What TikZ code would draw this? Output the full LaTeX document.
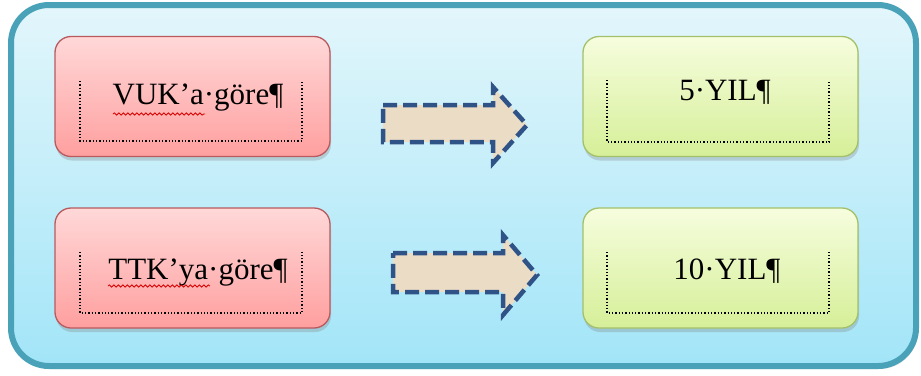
\documentclass[tikz,border=0pt]{standalone}
\usepackage{fontspec}
\setmainfont{Liberation Serif}
\usetikzlibrary{shadows,decorations.pathmorphing}
\definecolor{frameline}{HTML}{4AA2B8}
\definecolor{frametop}{HTML}{E3F6FB}
\definecolor{framebot}{HTML}{A2E5F8}
\definecolor{pinktop}{HTML}{FFD8D8}
\definecolor{pinkbot}{HTML}{FF9F9F}
\definecolor{pinkline}{HTML}{B85A5E}
\definecolor{greentop}{HTML}{F6FDDE}
\definecolor{greenbot}{HTML}{D6EF98}
\definecolor{greenline}{HTML}{A3C06A}
\definecolor{arrowfill}{HTML}{EBDCC6}
\definecolor{arrowline}{HTML}{2F5386}
\tikzset{
  pinkbox/.style={rectangle, rounded corners=16pt, draw=pinkline, line width=1.3pt,
    top color=pinktop, bottom color=pinkbot, minimum width=275pt, minimum height=120pt,
    inner sep=0pt, drop shadow={shadow xshift=1pt, shadow yshift=-4pt, opacity=0.3}},
  greenbox/.style={rectangle, rounded corners=16pt, draw=greenline, line width=1.3pt,
    top color=greentop, bottom color=greenbot, minimum width=275pt, minimum height=120pt,
    inner sep=0pt, drop shadow={shadow xshift=1pt, shadow yshift=-4pt, opacity=0.3}},
  label/.style={anchor=base, inner sep=0pt, font=\fontsize{31}{34}\selectfont},
  inner/.style={dotted, line width=1.3pt, black},
  blockarrow/.style={fill=arrowfill, draw=arrowline, line width=4.5pt,
    dash pattern=on 14pt off 6pt, line join=miter},
  squiggle/.style={red!85!black, line width=0.8pt,
    decorate, decoration={snake, amplitude=1.1pt, segment length=4.5pt}}
}
\begin{document}
\begin{tikzpicture}[x=1pt,y=-1pt]
\useasboundingbox (0,0) rectangle (921,375);
% outer frame
\path[draw=frameline, line width=6pt, rounded corners=38pt,
  top color=frametop, bottom color=framebot,
  drop shadow={shadow xshift=2pt, shadow yshift=-3pt, opacity=0.2}]
  (11,5) rectangle (916,366);

% boxes
\node[pinkbox] (vuk) at (192.5,96.5) {};
\node[greenbox] (bes) at (720.5,96.5) {};
\node[pinkbox] (ttk) at (192.5,268) {};
\node[greenbox] (on) at (720.5,268) {};

% inner dotted frames
\draw[inner] ([shift={(-112.5,-15.5)}]vuk.center) -- ([shift={(-112.5,44.5)}]vuk.center)
  -- ([shift={(109.5,44.5)}]vuk.center) -- ([shift={(109.5,-15.5)}]vuk.center);
\draw[inner] ([shift={(-113.5,-16.5)}]bes.center) -- ([shift={(-113.5,45.5)}]bes.center)
  -- ([shift={(108.5,45.5)}]bes.center) -- ([shift={(108.5,-16.5)}]bes.center);
\draw[inner] ([shift={(-112.5,-16)}]ttk.center) -- ([shift={(-112.5,45)}]ttk.center)
  -- ([shift={(109.5,45)}]ttk.center) -- ([shift={(109.5,-16)}]ttk.center);
\draw[inner] ([shift={(-113.5,-16)}]on.center) -- ([shift={(-113.5,45)}]on.center)
  -- ([shift={(108.5,45)}]on.center) -- ([shift={(108.5,-16)}]on.center);

% texts
\node[label] (t1) at (198,104) {VUK’a·göre¶};
\node[label] (t2) at (725,100) {5·YIL¶};
\node[label] (t3) at (198,279) {TTK’ya·göre¶};
\node[label] (t4) at (727,279) {10·YIL¶};

% spelling squiggles
\draw[squiggle] (113,114) -- (205,114);
\draw[squiggle] (108,286) -- (210,286);

% block arrows
\draw[blockarrow] (383,105) -- (493,105) -- (493,87) -- (527,125) -- (493,163)
  -- (493,142) -- (383,142) -- cycle;
\draw[blockarrow] (393,253) -- (503,253) -- (503,235) -- (537,275) -- (503,315)
  -- (503,292) -- (393,292) -- cycle;
\end{tikzpicture}
\end{document}
